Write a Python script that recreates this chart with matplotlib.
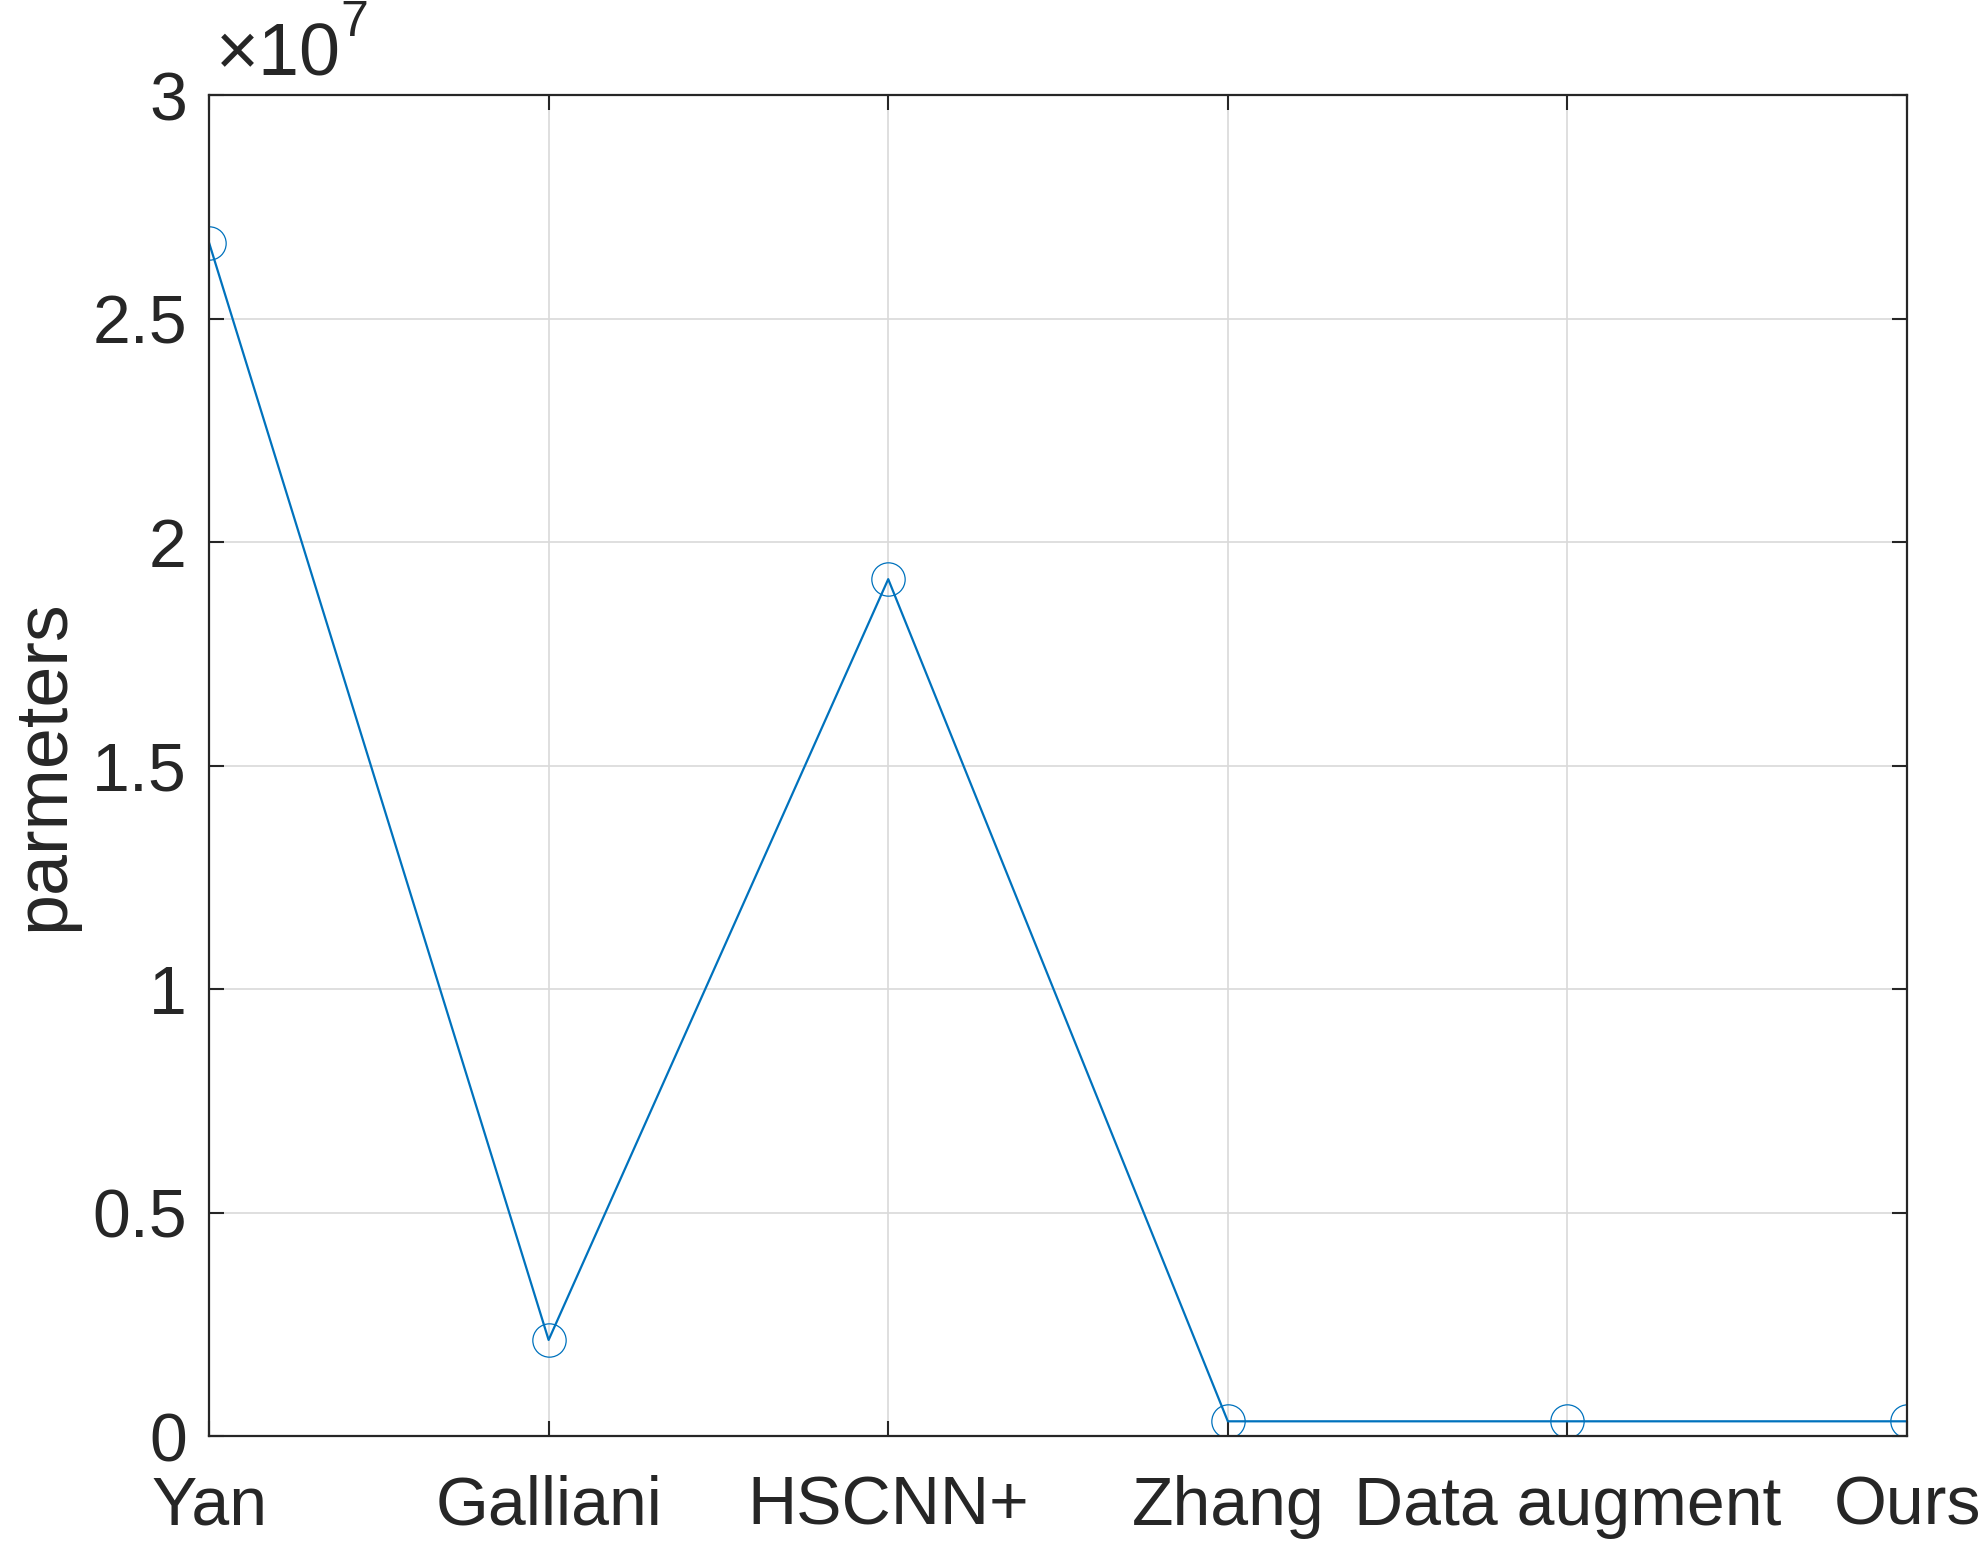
import matplotlib.pyplot as plt
from matplotlib.ticker import FuncFormatter

plt.rcParams['font.family'] = ['Liberation Sans', 'DejaVu Sans']

metodos = ['Yan', 'Galliani', 'HSCNN+', 'Zhang', 'Data augment', 'Ours']
parametros = [2.67e7, 2.15e6, 1.917e7, 3.3e5, 3.3e5, 3.3e5]
ticks_y = [0, 0.5e7, 1e7, 1.5e7, 2e7, 2.5e7, 3e7]

fig = plt.figure(figsize=(19.83, 15.53), dpi=100)
ax = fig.add_axes([0.1054, 0.0753, 0.8563, 0.8635])

x = list(range(1, len(metodos) + 1))
ax.plot(x, parametros, color='#0072BD', lw=1.6, marker='o', ms=24,
        mfc='none', mec='#0072BD', mew=0.9)

ax.set_xlim(1, 6)
ax.set_ylim(0, 3e7)
ax.set_xticks(x)
ax.set_xticklabels(metodos)
ax.set_yticks(ticks_y)
ax.yaxis.set_major_formatter(FuncFormatter(lambda v, p: f'{v / 1e7:g}'))

ax.grid(True, color='#d9d9d9', lw=1.2)
ax.set_axisbelow(True)
ax.tick_params(direction='in', length=11, width=1.5, color='#262626',
               labelsize=49, labelcolor='#262626', top=True, right=True,
               labeltop=False, labelright=False)
ax.tick_params(axis='x', pad=28)
ax.tick_params(axis='y', pad=16)
for s in ax.spines.values():
    s.set_color('#262626')
    s.set_linewidth(1.6)

ax.set_ylabel('parmeters', fontsize=53, color='#262626', labelpad=10)

# multiplicador estilo matlab
fig.text(216 / 1983, 1 - 76 / 1553, '×10', fontsize=53, color='#262626',
         ha='left', va='baseline')
fig.text(340 / 1983, 1 - 36 / 1553, '7', fontsize=36, color='#262626',
         ha='left', va='baseline')

plt.savefig('out.png')
